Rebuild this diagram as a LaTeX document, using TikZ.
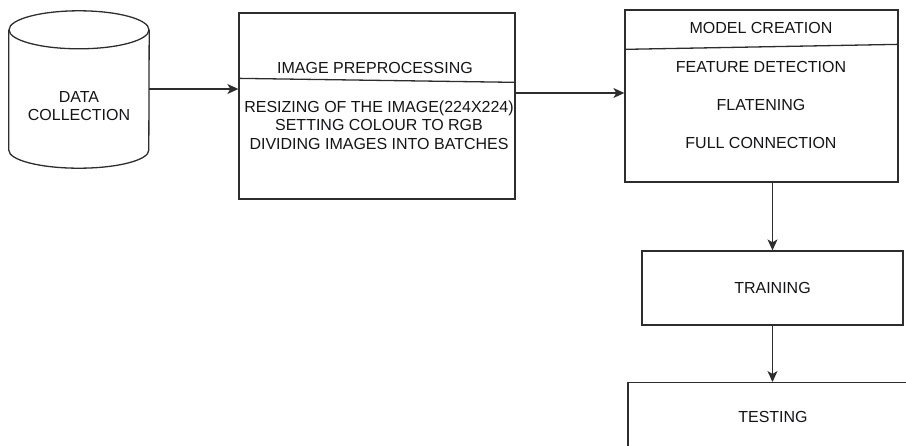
\documentclass[tikz,border=0pt]{standalone}
\usepackage{fontspec}
\setmainfont{Liberation Sans}
\usepackage{tikz}
\usetikzlibrary{arrows.meta,positioning,calc}
\definecolor{ink}{RGB}{20,20,24}
\definecolor{edge}{RGB}{45,45,45}

\begin{document}
\begin{tikzpicture}[x=1pt,y=-1pt,font=\fontsize{16}{18.5}\selectfont,text=ink,
  >={Stealth[length=11pt,width=10pt,inset=3pt]},
  box/.style={draw=edge,line width=1.3pt,inner sep=0pt},
  txt/.style={inner sep=0pt,align=center},
  flow/.style={->,draw=edge,line width=1.3pt}]
 \clip (0,0) rectangle (906,445);
 % data store
 \node[txt,minimum width=140,minimum height=158] (data) at (79,89) {};
 \draw[edge,line width=1.3pt] ([yshift=-20]data.north) ellipse [x radius=70,y radius=19];
 \draw[edge,line width=1.3pt] ([yshift=-20]data.north west) -- ([yshift=18]data.south west)
   arc[start angle=180,end angle=0,x radius=70,y radius=18] -- ([yshift=-20]data.north east);
 \node[txt] (datalabel) at (79,106) {DATA\\COLLECTION};
 % preprocessing
 \node[box,minimum width=276,minimum height=186] (prep) at (377,106) {};
 \draw[edge,line width=1.3pt] ([yshift=-66]prep.north west) -- ([yshift=-70]prep.north east);
 \node[txt] (preptitle) at (375,68) {IMAGE PREPROCESSING};
 \node[txt] (prepbody) at (379,125) {RESIZING OF THE IMAGE(224X224)\\SETTING COLOUR TO RGB\\DIVIDING IMAGES INTO BATCHES};
 % model
 \node[box,minimum width=273,minimum height=172] (model) at (761.5,96) {};
 \draw[edge,line width=1.3pt] ([yshift=-40]model.north west) -- ([yshift=-35]model.north east);
 \node[txt] (modeltitle) at (761,28) {MODEL CREATION};
 \node[txt] (feature) at (761,67) {FEATURE DETECTION};
 \node[txt] (flat) at (761,105) {FLATENING};
 \node[txt] (full) at (761,143) {FULL CONNECTION};
 % training / testing
 \node[box,minimum width=261,minimum height=74] (train) at (772.5,288) {TRAINING};
 \node[box,minimum width=290,minimum height=80,anchor=north] (test) at (773,382) {};
 \node[txt] (testlabel) at (773,417) {TESTING};
 % arrows
 \draw[flow] (data.east) -- (data.east -| prep.west);
 \draw[flow] ([yshift=13]prep.east) -- ([yshift=13]prep.east -| model.west);
 \draw[flow] (train.north |- model.south) -- (train.north);
 \draw[flow] (train.south) -- (train.south |- test.north);
\end{tikzpicture}
\end{document}
